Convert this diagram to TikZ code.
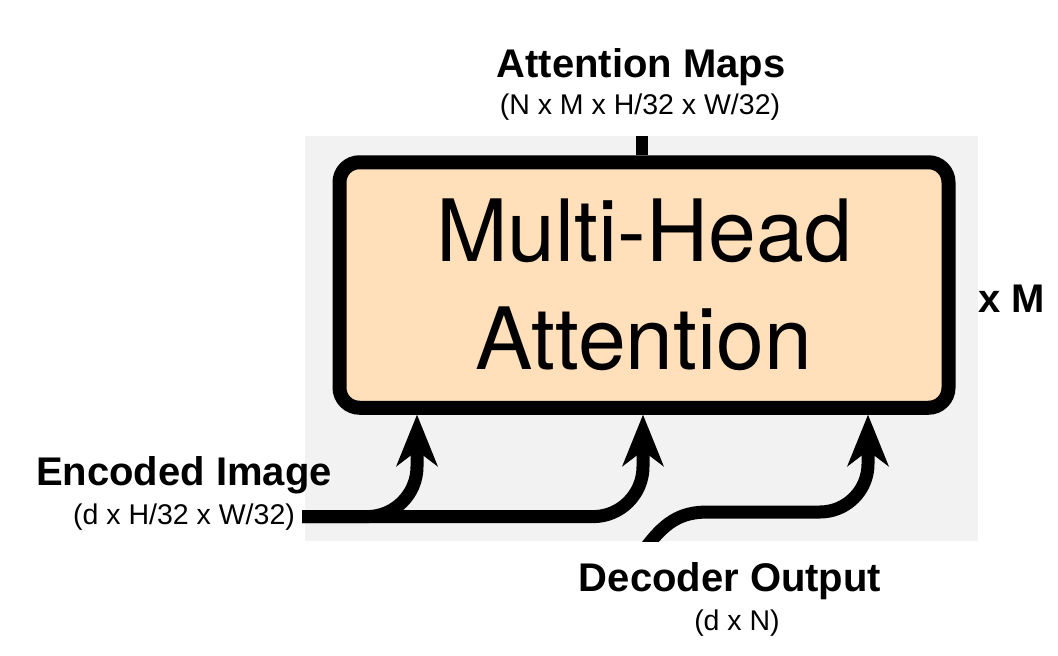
\documentclass[tikz,border=0pt]{standalone}
\usepackage{fontspec}
\setmainfont{Liberation Sans}
\newfontfamily\labfont{Liberation Sans}
\newfontfamily\boxfont{TeX Gyre Heros}
\usetikzlibrary{arrows.meta}
\definecolor{bggray}{RGB}{242,242,242}
\definecolor{peach}{RGB}{255,224,186}
\begin{document}
\begin{tikzpicture}[x=1pt,y=-1pt,
  title/.style={font=\labfont\bfseries\fontsize{40}{44}\selectfont, inner sep=0pt},
  sub/.style={font=\labfont\fontsize{28.5}{32}\selectfont, inner sep=0pt},
  conn/.style={line width=13pt, rounded corners=50pt,
    -{Stealth[length=52pt,width=42pt,inset=16pt,line width=0pt]}},
  mhabox/.style={draw, line width=14pt, fill=peach, rounded corners=20pt,
    minimum width=609pt, minimum height=245.5pt, outer sep=7pt, align=center,
    inner sep=0pt, font=\boxfont\fontsize{86}{108}\selectfont}
  ]
\useasboundingbox (0,0) rectangle (1058,656);
\fill[bggray] (305,136) rectangle (978,541);
\node[mhabox] (mha) at (644,285) {Multi-Head\\Attention};

\node[title, anchor=base] (attn) at (641,77) {Attention Maps};
\node[sub, anchor=base] (attnsub) at (640,114) {(N x M x H/32 x W/32)};
\node[title, anchor=base] (enc) at (184,485) {Encoded Image};
\node[sub, anchor=base] (encsub) at (184,524) {(d x H/32 x W/32)};
\node[title, anchor=base] (dec) at (730,591) {Decoder Output};
\node[sub, anchor=base] (decsub) at (737,630) {(d x N)};
\node[title, anchor=base west] (xm) at (978,312) {x M};

\coordinate (attnout) at (642,136);
\draw[line width=12pt] ([xshift=-2pt]mha.north) -- (attnout);

\draw[conn] ([xshift=7pt]encsub.east) -- (417,0 |- encsub.east) -- ([xshift=-227pt]mha.south);
\draw[conn] ([xshift=7pt]encsub.east) -- (643,0 |- encsub.east) -- ([xshift=-1pt]mha.south);

\begin{scope}
\clip (0,0) rectangle (1058,541);
\coordinate (decin) at (642,553);
\draw[conn, sharp corners] (decin) .. controls (664,522) and (680,512) .. (708,512) -- (820,512)
  .. controls (846.5,512) and (868,490.5) .. (868,464) -- ([xshift=224pt]mha.south);
\end{scope}
\end{tikzpicture}
\end{document}
